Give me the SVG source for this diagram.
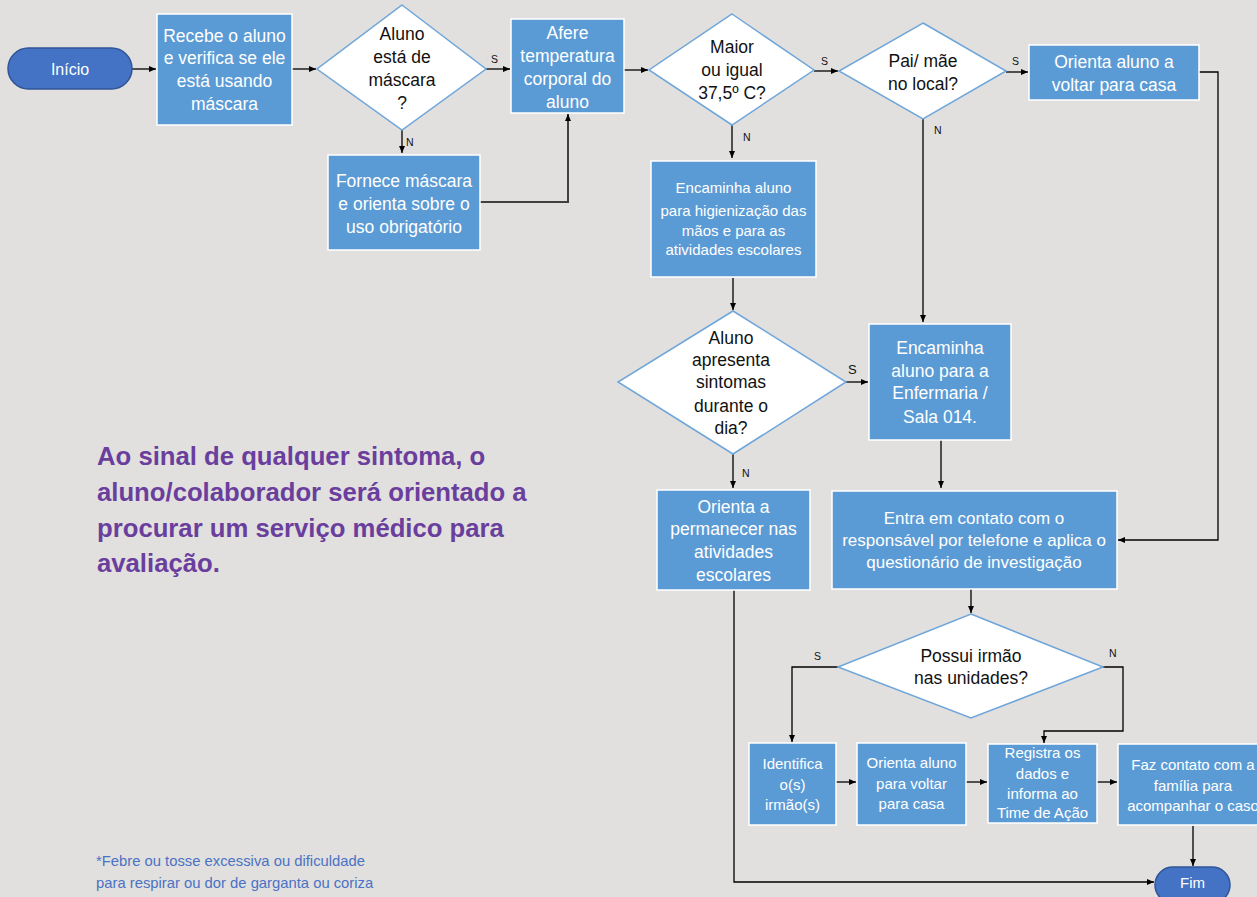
<svg xmlns="http://www.w3.org/2000/svg" width="1257" height="897" viewBox="0 0 1257 897">
<defs>
<marker id="ah" markerWidth="8" markerHeight="8" refX="7" refY="4" orient="auto" markerUnits="userSpaceOnUse">
<path d="M0,1 L7,4 L0,7 Z" fill="#000"/>
</marker>
<style>
.box{fill:#5b9bd5;stroke:#ffffff;stroke-width:1.5}
.pill{fill:#4472c4;stroke:#2f5597;stroke-width:1.5}
.dia{fill:#ffffff;stroke:#6fa6da;stroke-width:1.5}
.wt{font-family:"Liberation Sans",Arial,sans-serif;fill:#ffffff;text-anchor:middle;font-size:17.5px}
.sm{font-size:15px}
.bt{font-family:"Liberation Sans",Arial,sans-serif;fill:#111;text-anchor:middle;font-size:17.5px}
.lb{font-family:"Liberation Sans",Arial,sans-serif;fill:#111;font-size:10.5px}
.cn{fill:none;stroke:#000;stroke-width:1.3}
</style>
</defs>
<rect width="1257" height="897" fill="#e1e0de"/>

<g id="connectors">
<line class="cn" x1="132" y1="69" x2="156" y2="69" marker-end="url(#ah)"/>
<line class="cn" x1="292" y1="69" x2="316" y2="69" marker-end="url(#ah)"/>
<line class="cn" x1="486" y1="69" x2="510" y2="69" marker-end="url(#ah)"/>
<line class="cn" x1="402" y1="130" x2="402" y2="153" marker-end="url(#ah)"/>
<polyline class="cn" points="480,202 568,202 568,114" marker-end="url(#ah)" style="stroke:#404040;stroke-width:2"/>
<line class="cn" x1="624" y1="70" x2="648" y2="70" marker-end="url(#ah)"/>
<line class="cn" x1="814" y1="71" x2="838" y2="71" marker-end="url(#ah)"/>
<line class="cn" x1="732" y1="125" x2="732" y2="158" marker-end="url(#ah)"/>
<line class="cn" x1="1006" y1="72" x2="1028" y2="72" marker-end="url(#ah)"/>
<line class="cn" x1="923" y1="119" x2="923" y2="322" marker-end="url(#ah)"/>
<polyline class="cn" points="1199,72 1218,72 1218,540 1118,540" marker-end="url(#ah)"/>
<line class="cn" x1="733" y1="278" x2="733" y2="310" marker-end="url(#ah)"/>
<line class="cn" x1="846" y1="382" x2="868" y2="382" marker-end="url(#ah)"/>
<line class="cn" x1="733" y1="454" x2="733" y2="488" marker-end="url(#ah)"/>
<line class="cn" x1="941" y1="440" x2="941" y2="488" marker-end="url(#ah)"/>
<polyline class="cn" points="734,590 734,882 1154,882" marker-end="url(#ah)"/>
<line class="cn" x1="971" y1="589" x2="971" y2="613" marker-end="url(#ah)"/>
<polyline class="cn" points="838,667 792,667 792,742" marker-end="url(#ah)"/>
<polyline class="cn" points="1103,667 1123,667 1123,731 1044,731 1044,743" marker-end="url(#ah)"/>
<line class="cn" x1="836" y1="782" x2="856" y2="782" marker-end="url(#ah)"/>
<line class="cn" x1="966" y1="782" x2="987" y2="782" marker-end="url(#ah)"/>
<line class="cn" x1="1097" y1="782" x2="1117" y2="782" marker-end="url(#ah)"/>
<line class="cn" x1="1193" y1="826" x2="1193" y2="866" marker-end="url(#ah)"/>
<text class="lb" x="491" y="63">S</text>
<text class="lb" x="406" y="146">N</text>
<text class="lb" x="821" y="65">S</text>
<text class="lb" x="743" y="141">N</text>
<text class="lb" x="1012" y="65">S</text>
<text class="lb" x="934" y="134">N</text>
<text class="lb" x="848" y="374" style="font-size:13px">S</text>
<text class="lb" x="742" y="477">N</text>
<text class="lb" x="814" y="660">S</text>
<text class="lb" x="1109" y="657">N</text>
</g>

<g id="inicio">
<rect class="pill" x="8" y="48" width="124" height="41" rx="20.5"/>
<text class="wt" x="70" y="75" style="font-size:16px">Início</text>
</g>

<g id="recebe">
<rect class="box" x="157" y="14" width="135" height="111"/>
<text class="wt" x="224.5" y="42">Recebe o aluno</text>
<text class="wt" x="224.5" y="64">e verifica se ele</text>
<text class="wt" x="224.5" y="87">está usando</text>
<text class="wt" x="224.5" y="110">máscara</text>
</g>

<g id="d-mascara">
<polygon class="dia" points="402,5 486,69 402,130 317,69"/>
<text class="bt" x="402" y="40">Aluno</text>
<text class="bt" x="402" y="63">está de</text>
<text class="bt" x="402" y="86">máscara</text>
<text class="bt" x="402" y="109">?</text>
</g>

<g id="fornece">
<rect class="box" x="328" y="155" width="152" height="95"/>
<text class="wt" x="404" y="187">Fornece máscara</text>
<text class="wt" x="404" y="210">e orienta sobre o</text>
<text class="wt" x="404" y="233">uso obrigatório</text>
</g>

<g id="afere">
<rect class="box" x="511" y="19" width="113" height="94"/>
<text class="wt" x="567.5" y="39">Afere</text>
<text class="wt" x="567.5" y="62">temperatura</text>
<text class="wt" x="567.5" y="85">corporal do</text>
<text class="wt" x="567.5" y="108">aluno</text>
</g>

<g id="d-temp">
<polygon class="dia" points="732,14 814,70 732,125 649,70"/>
<text class="bt" x="732" y="53">Maior</text>
<text class="bt" x="732" y="76">ou igual</text>
<text class="bt" x="732" y="99">37,5º C?</text>
</g>

<g id="d-pais">
<polygon class="dia" points="923,23 1006,71 923,119 839,71"/>
<text class="bt" x="923" y="67">Pai/ mãe</text>
<text class="bt" x="923" y="90">no local?</text>
</g>

<g id="orienta-casa">
<rect class="box" x="1029" y="45" width="170" height="55"/>
<text class="wt" x="1114" y="68">Orienta aluno a</text>
<text class="wt" x="1114" y="91">voltar para casa</text>
</g>

<g id="encaminha-hig">
<rect class="box" x="651" y="161" width="165" height="116"/>
<text class="wt sm" x="733.5" y="193">Encaminha aluno</text>
<text class="wt sm" x="733.5" y="216">para higienização das</text>
<text class="wt sm" x="733.5" y="236">mãos e para as</text>
<text class="wt sm" x="733.5" y="255">atividades escolares</text>
</g>

<g id="d-sintomas">
<polygon class="dia" points="733,311 846,382 733,454 618,382"/>
<text class="bt" x="731" y="344">Aluno</text>
<text class="bt" x="731" y="366">apresenta</text>
<text class="bt" x="731" y="388">sintomas</text>
<text class="bt" x="731" y="412">durante o</text>
<text class="bt" x="731" y="434">dia?</text>
</g>

<g id="enfermaria">
<rect class="box" x="869" y="324" width="142" height="116"/>
<text class="wt" x="940" y="354">Encaminha</text>
<text class="wt" x="940" y="377">aluno para a</text>
<text class="wt" x="940" y="399">Enfermaria /</text>
<text class="wt" x="940" y="423">Sala 014.</text>
</g>

<g id="permanecer">
<rect class="box" x="657" y="490" width="153" height="100"/>
<text class="wt" x="733.5" y="513">Orienta a</text>
<text class="wt" x="733.5" y="535">permanecer nas</text>
<text class="wt" x="733.5" y="558">atividades</text>
<text class="wt" x="733.5" y="581">escolares</text>
</g>

<g id="contato">
<rect class="box" x="832" y="491" width="285" height="98"/>
<text class="wt" x="974" y="524" style="font-size:17px">Entra em contato com o</text>
<text class="wt" x="974" y="546" style="font-size:17px">responsável por telefone e aplica o</text>
<text class="wt" x="974" y="568" style="font-size:17px">questionário de investigação</text>
</g>

<g id="d-irmao">
<polygon class="dia" points="971,614 1103,667 971,718 838,667"/>
<text class="bt" x="971" y="662">Possui irmão</text>
<text class="bt" x="971" y="684">nas unidades?</text>
</g>

<g id="identifica">
<rect class="box" x="749" y="743" width="87" height="82"/>
<text class="wt sm" x="792.5" y="769">Identifica</text>
<text class="wt sm" x="792.5" y="790">o(s)</text>
<text class="wt sm" x="792.5" y="810">irmão(s)</text>
</g>

<g id="orienta-voltar">
<rect class="box" x="857" y="743" width="109" height="82"/>
<text class="wt sm" x="911.5" y="768">Orienta aluno</text>
<text class="wt sm" x="911.5" y="789">para voltar</text>
<text class="wt sm" x="911.5" y="809">para casa</text>
</g>

<g id="registra">
<rect class="box" x="988" y="744" width="109" height="79"/>
<text class="wt sm" x="1042.5" y="758">Registra os</text>
<text class="wt sm" x="1042.5" y="779">dados e</text>
<text class="wt sm" x="1042.5" y="799">informa ao</text>
<text class="wt sm" x="1042.5" y="818">Time de Ação</text>
</g>

<g id="faz-contato">
<rect class="box" x="1118" y="744" width="150" height="81"/>
<text class="wt sm" x="1193" y="770">Faz contato com a</text>
<text class="wt sm" x="1193" y="791">família para</text>
<text class="wt sm" x="1193" y="811">acompanhar o caso</text>
</g>

<g id="fim">
<rect class="pill" x="1155" y="867" width="75" height="36" rx="18"/>
<text class="wt" x="1192.5" y="888" style="font-size:15px">Fim</text>
</g>

<g id="nota" font-family="'Liberation Sans',Arial,sans-serif">
<text x="97" y="465" font-size="25.7" font-weight="bold" fill="#6a3e9d">Ao sinal de qualquer sintoma, o</text>
<text x="97" y="501" font-size="25.7" font-weight="bold" fill="#6a3e9d">aluno/colaborador será orientado a</text>
<text x="97" y="537" font-size="25.7" font-weight="bold" fill="#6a3e9d">procurar um serviço médico para</text>
<text x="97" y="572" font-size="25.7" font-weight="bold" fill="#6a3e9d">avaliação.</text>
<text x="96" y="866" font-size="14.8" fill="#4a72c4">*Febre ou tosse excessiva ou dificuldade</text>
<text x="96" y="888" font-size="14.8" fill="#4a72c4">para respirar ou dor de garganta ou coriza</text>
</g>
</svg>
